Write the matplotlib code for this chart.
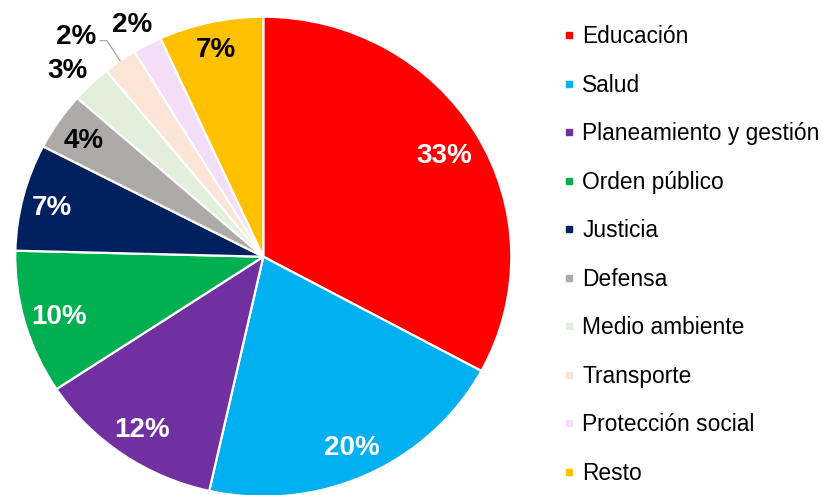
import numpy as np
import matplotlib.pyplot as plt
from matplotlib.lines import Line2D

plt.rcParams['font.family'] = ['Liberation Sans', 'DejaVu Sans']

categorias = ['Educación', 'Salud', 'Planeamiento y gestión', 'Orden público',
              'Justicia', 'Defensa', 'Medio ambiente', 'Transporte',
              'Protección social', 'Resto']
valores = [32.9, 20.6, 12.2, 9.7, 7.2, 3.9, 2.6, 2.2, 1.9, 6.8]
etiquetas = ['33%', '20%', '12%', '10%', '7%', '4%', '3%', '2%', '2%', '7%']
colores = ['#FF0000', '#00B0F0', '#7030A0', '#00B050', '#002060',
           '#AEAAAA', '#E2EFDA', '#FCE4D6', '#F4DDF8', '#FFC000']
color_txt = ['white'] * 5 + ['black'] * 5
radio_txt = [0.85, 0.86, 0.86, 0.855, 0.88, 0.877, 1.116, 1.2, 1.114, 0.895]
giro_txt = [0, 0, 0, 0, 0, 0, 1.2, 3.8, 0.5, 0]

fig = plt.figure(figsize=(8.23, 4.95), dpi=100)
W, H = 823, 495
cx, cy, rx, ry = 263.3, 256.7, 248, 240
ax = fig.add_axes([(cx - rx) / W, (H - cy - ry) / H, 2 * rx / W, 2 * ry / H])

wedges, _ = ax.pie(valores, colors=colores, startangle=90, counterclock=False,
                   wedgeprops=dict(edgecolor='white', linewidth=1.6))
ax.set_aspect('auto')
ax.set_xlim(-1, 1)
ax.set_ylim(-1, 1)
ax.axis('off')

for w, lab, c, r, g in zip(wedges, etiquetas, color_txt, radio_txt, giro_txt):
    ang = np.deg2rad((w.theta1 + w.theta2) / 2 + g)
    ax.text(r * np.cos(ang), r * np.sin(ang) - 0.015, lab, ha='center', va='center',
            fontsize=20, fontweight='bold', color=c, clip_on=False)

# linea guia de Transporte
w = wedges[7]
ang = np.deg2rad((w.theta1 + w.theta2) / 2)
ax.plot([np.cos(ang), -0.630, -0.658], [np.sin(ang), 0.9, 0.9],
        color='#A6A6A6', lw=0.9, clip_on=False)

handles = [Line2D([], [], marker='s', ls='', color=c, markersize=5) for c in colores]
fig.legend(handles, categorias, loc='upper left', bbox_to_anchor=(563 / W, 1 - 25 / H),
           frameon=False, fontsize=16.4, handlelength=0.55, handletextpad=0.3,
           labelspacing=1.12, borderaxespad=0, borderpad=0)

fig.savefig('out.png', dpi=100)
